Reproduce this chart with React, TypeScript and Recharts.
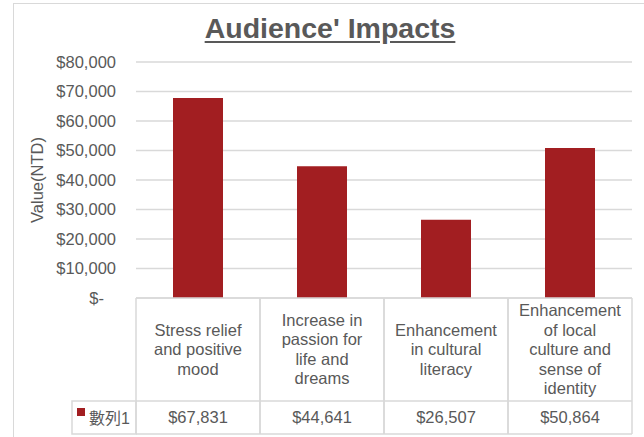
import React from 'react'
import { BarChart, Bar, XAxis, YAxis, CartesianGrid } from 'recharts'

const CATEGORY_LINES: string[][] = [
  ['Stress relief', 'and positive', 'mood'],
  ['Increase in', 'passion for', 'life and', 'dreams'],
  ['Enhancement', 'in cultural', 'literacy'],
  ['Enhancement', 'of local', 'culture and', 'sense of', 'identity'],
]
const CATEGORIES = CATEGORY_LINES.map((l) => l.join(' '))
const VALUES = [67831, 44641, 26507, 50864]
const Y_TICKS = [0, 10000, 20000, 30000, 40000, 50000, 60000, 70000, 80000]
const SERIES_NAME = '數列1'
const TITLE = "Audience' Impacts"
const Y_LABEL = 'Value(NTD)'

const data = CATEGORIES.map((name, i) => ({ name, value: VALUES[i] }))

const BAR = '#A21E21'
const GRID = '#D9D9D9'
const TEXT = '#595959'
const FONT = '"Liberation Sans", Arial, "Noto Sans CJK TC", sans-serif'
const FS = 16.5

const COL_W = 124
const CAT_ROW = 103
const VAL_ROW = 33
const LEGEND_W = 64

const money = (v: number) => (v === 0 ? '$-' : '$' + v.toLocaleString('en-US'))

function YTick(props: any) {
  const { x, y, payload } = props
  const zero = payload.value === 0
  return (
    <text x={zero ? x - 12 : x} y={y} dy={5.5} textAnchor="end" fill={TEXT} fontSize={FS} fontFamily={FONT}>
      {money(payload.value)}
    </text>
  )
}

function TableTick(props: any) {
  const { x, y, index } = props
  const lines = CATEGORY_LINES[index]
  const left = x - COL_W / 2
  const right = x + COL_W / 2
  const lh = 19.5
  const startY = y + CAT_ROW / 2 - ((lines.length - 1) * lh) / 2
  return (
    <g>
      <line x1={left} x2={left} y1={y} y2={y + CAT_ROW + VAL_ROW} stroke={GRID} strokeWidth={1.5} />
      <line x1={right} x2={right} y1={y} y2={y + CAT_ROW + VAL_ROW} stroke={GRID} strokeWidth={1.5} />
      <line x1={left} x2={right} y1={y + CAT_ROW} y2={y + CAT_ROW} stroke={GRID} strokeWidth={1.5} />
      <line x1={left} x2={right} y1={y + CAT_ROW + VAL_ROW} y2={y + CAT_ROW + VAL_ROW} stroke={GRID} strokeWidth={1.5} />
      {lines.map((t, i) => (
        <text key={i} x={x} y={startY + i * lh} dy={5.5} textAnchor="middle" fill={TEXT} fontSize={FS} fontFamily={FONT}>
          {t}
        </text>
      ))}
      <text x={x} y={y + CAT_ROW + VAL_ROW / 2} dy={5.5} textAnchor="middle" fill={TEXT} fontSize={FS} fontFamily={FONT}>
        {money(VALUES[index])}
      </text>
      {index === 0 && (
        <g>
          <rect x={left - LEGEND_W} y={y + CAT_ROW} width={LEGEND_W} height={VAL_ROW} fill="none" stroke={GRID} strokeWidth={1.5} />
          <rect x={left - LEGEND_W + 5} y={y + CAT_ROW + 7} width={8} height={8} fill={BAR} />
          <text x={left - LEGEND_W + 17} y={y + CAT_ROW + VAL_ROW / 2} dy={6} fill={TEXT} fontSize={16} fontFamily={FONT}>
            {SERIES_NAME}
          </text>
        </g>
      )}
    </g>
  )
}

export default function App() {
  return (
    <div style={{ position: 'absolute', left: 0, top: 0, width: 644, height: 437, overflow: 'hidden', background: '#fff' }}>
      <div style={{ position: 'absolute', left: 13, top: 3, width: 700, height: 500, borderLeft: `1.5px solid ${GRID}`, borderTop: `1.5px solid ${GRID}` }} />
      <div
        style={{
          position: 'absolute', left: 0, top: 12, width: 660, textAlign: 'center', fontFamily: FONT,
          fontWeight: 'bold', fontSize: 28.5, color: TEXT, textDecoration: 'underline', textUnderlineOffset: 3,
        }}
      >
        {TITLE}
      </div>
      <div style={{ position: 'absolute', left: 0, top: 0 }}>
        <BarChart width={644} height={437} data={data} margin={{ top: 62, right: 12, bottom: 3, left: 0 }}>
          <CartesianGrid vertical={false} stroke={GRID} strokeWidth={1.5} />
          <YAxis
            width={136}
            domain={[0, 80000]}
            ticks={Y_TICKS}
            axisLine={false}
            tickLine={false}
            tickSize={0}
            tickMargin={20}
            tick={<YTick />}
            label={{ value: Y_LABEL, angle: -90, position: 'insideLeft', offset: 37, style: { textAnchor: 'middle', fill: TEXT, fontSize: FS, fontFamily: FONT } }}
          />
          <XAxis
            dataKey="name"
            height={136}
            interval={0}
            axisLine={{ stroke: GRID, strokeWidth: 1.5 }}
            tickLine={false}
            tickSize={0}
            tickMargin={0}
            tick={<TableTick />}
          />
          <Bar dataKey="value" fill={BAR} barSize={50} isAnimationActive={false} />
        </BarChart>
      </div>
    </div>
  )
}
